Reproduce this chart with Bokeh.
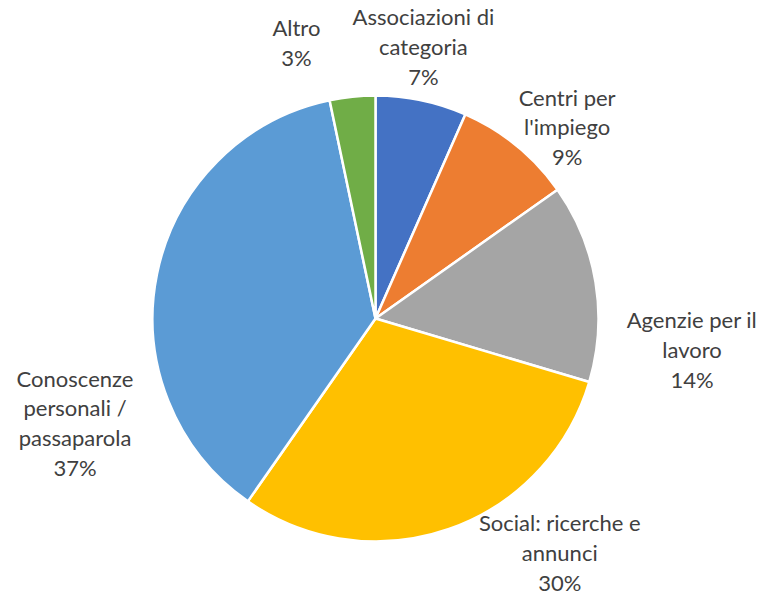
import math
from bokeh.plotting import figure
from bokeh.models import Range1d, ColumnDataSource
from bokeh.core.properties import value
from bokeh.embed import file_html
from bokeh.resources import INLINE

# ---- data ----
categories = [
    "Associazioni di\ncategoria",
    "Centri per\nl'impiego",
    "Agenzie per il\nlavoro",
    "Social: ricerche e\nannunci",
    "Conoscenze\npersonali /\npassaparola",
    "Altro",
]
shares = [6.6, 8.6, 14.4, 30.1, 37.0, 3.3]
colors = ["#4472C4", "#ED7D31", "#A5A5A5", "#FFC000", "#5B9BD5", "#70AD47"]

# ---- layout (label placement: angle clockwise from top in degrees, distance from centre in px) ----
label_angle = [10.0, 45.0, 95.6, 141.8, 250.9, 344.0]
label_dist = [276, 271, 318, 298, 318, 287]

W, H = 761, 597
cx, cy, r = 375, -318, 223

p = figure(width=W, height=H, output_backend="svg", toolbar_location=None,
           x_range=Range1d(0, W), y_range=Range1d(-H, 0),
           min_border=0)
p.axis.visible = False
p.grid.visible = False
p.outline_line_color = None
p.background_fill_color = "white"
p.border_fill_color = "white"

total = sum(shares)
starts, ends = [], []
cum = 0.0
for s in shares:
    a0 = math.pi / 2 - 2 * math.pi * cum / total
    cum += s
    a1 = math.pi / 2 - 2 * math.pi * cum / total
    starts.append(a0)
    ends.append(a1)

src = ColumnDataSource(dict(start=starts, end=ends, color=colors,
                            x=[cx] * len(shares), y=[cy] * len(shares)))
p.wedge(x="x", y="y", radius=r, radius_units="screen", start_angle="start", end_angle="end",
        direction="clock", fill_color="color", line_color="white", line_width=2.5, source=src)

texts = [f"{c}\n{s:.0f}%" for c, s in zip(categories, shares)]
lx = [cx + d * math.sin(math.radians(a)) for a, d in zip(label_angle, label_dist)]
ly = [cy + d * math.cos(math.radians(a)) for a, d in zip(label_angle, label_dist)]
p.text(x=lx, y=ly, text=texts, text_align="center", text_baseline="middle",
       text_font=value("Lato"), text_font_size="22px", text_color="#404040",
       text_line_height=1.1)

open("out.html", "w").write(file_html(p, INLINE))
